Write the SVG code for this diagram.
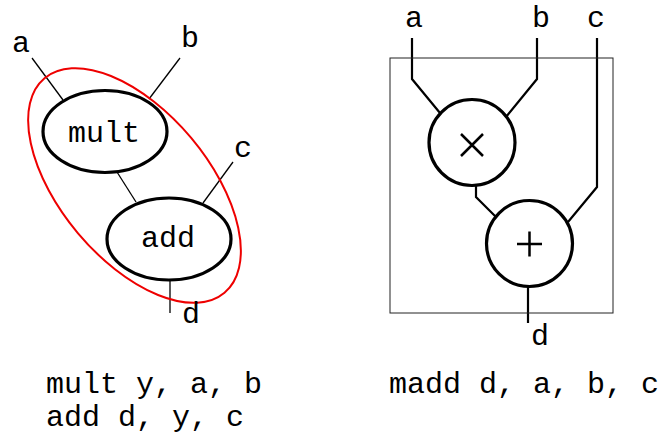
<svg xmlns="http://www.w3.org/2000/svg" width="658" height="434" viewBox="0 0 658 434">
<style>
text{font-family:"Liberation Mono","Courier New",monospace;font-size:30px;fill:#000}
.m{text-anchor:middle}
.node{fill:#fff;stroke:#000;stroke-width:3.2}
.w1{fill:none;stroke:#000;stroke-width:1.3}
.w2{fill:none;stroke:#000;stroke-width:2.2}
</style>
<rect width="658" height="434" fill="#fff"/>
<g id="connectors">
<line class="w1" x1="32" y1="58" x2="63" y2="100"/>
<line class="w1" x1="180" y1="58" x2="149" y2="99"/>
<line class="w1" x1="117" y1="172" x2="136" y2="202"/>
<line class="w1" x1="233" y1="162" x2="203" y2="203"/>
<line class="w1" x1="170" y1="280" x2="170" y2="313"/>
<polyline class="w2" points="412,38 412,79 440,113"/>
<polyline class="w2" points="537,38 537,79 506,117"/>
<polyline class="w2" points="597,38 597,187 568,222"/>
<polyline class="w2" points="476,185 476,197 496,217"/>
<line class="w2" x1="528" y1="286" x2="528" y2="323"/>
</g>
<g id="mult"><ellipse class="node" cx="105" cy="131.5" rx="62" ry="41"/><text class="m" x="104" y="142">mult</text></g>
<g id="add"><ellipse class="node" cx="169" cy="239" rx="62" ry="41"/><text class="m" x="168" y="247">add</text></g>
<g id="group"><ellipse cx="134.5" cy="185.5" rx="140" ry="74" transform="rotate(50 134.5 185.5)" fill="none" stroke="#e00" stroke-width="2"/></g>
<g id="madd-box"><rect x="390" y="58" width="223" height="255" fill="none" stroke="#222" stroke-width="1"/></g>
<g id="mul"><circle class="node" cx="472" cy="142.5" r="43"/><path d="M461,134 L483,156 M483,134 L461,156" stroke="#000" stroke-width="2.5" fill="none"/></g>
<g id="plus"><circle class="node" cx="529.5" cy="243.5" r="43"/><path d="M517,244 H542 M529.5,231.5 V256.5" stroke="#000" stroke-width="2.5" fill="none"/></g>
<g id="labels">
<text class="m" x="21" y="52">a</text>
<text class="m" x="190" y="47">b</text>
<text class="m" x="243" y="157">c</text>
<text class="m" x="191" y="323">d</text>
<text class="m" x="414" y="27">a</text>
<text class="m" x="541" y="27">b</text>
<text class="m" x="596" y="27">c</text>
<text class="m" x="540" y="345">d</text>
</g>
<g id="code">
<text x="46" y="393">mult y, a, b</text>
<text x="46" y="426">add d, y, c</text>
<text x="389" y="393">madd d, a, b, c</text>
</g>
</svg>
